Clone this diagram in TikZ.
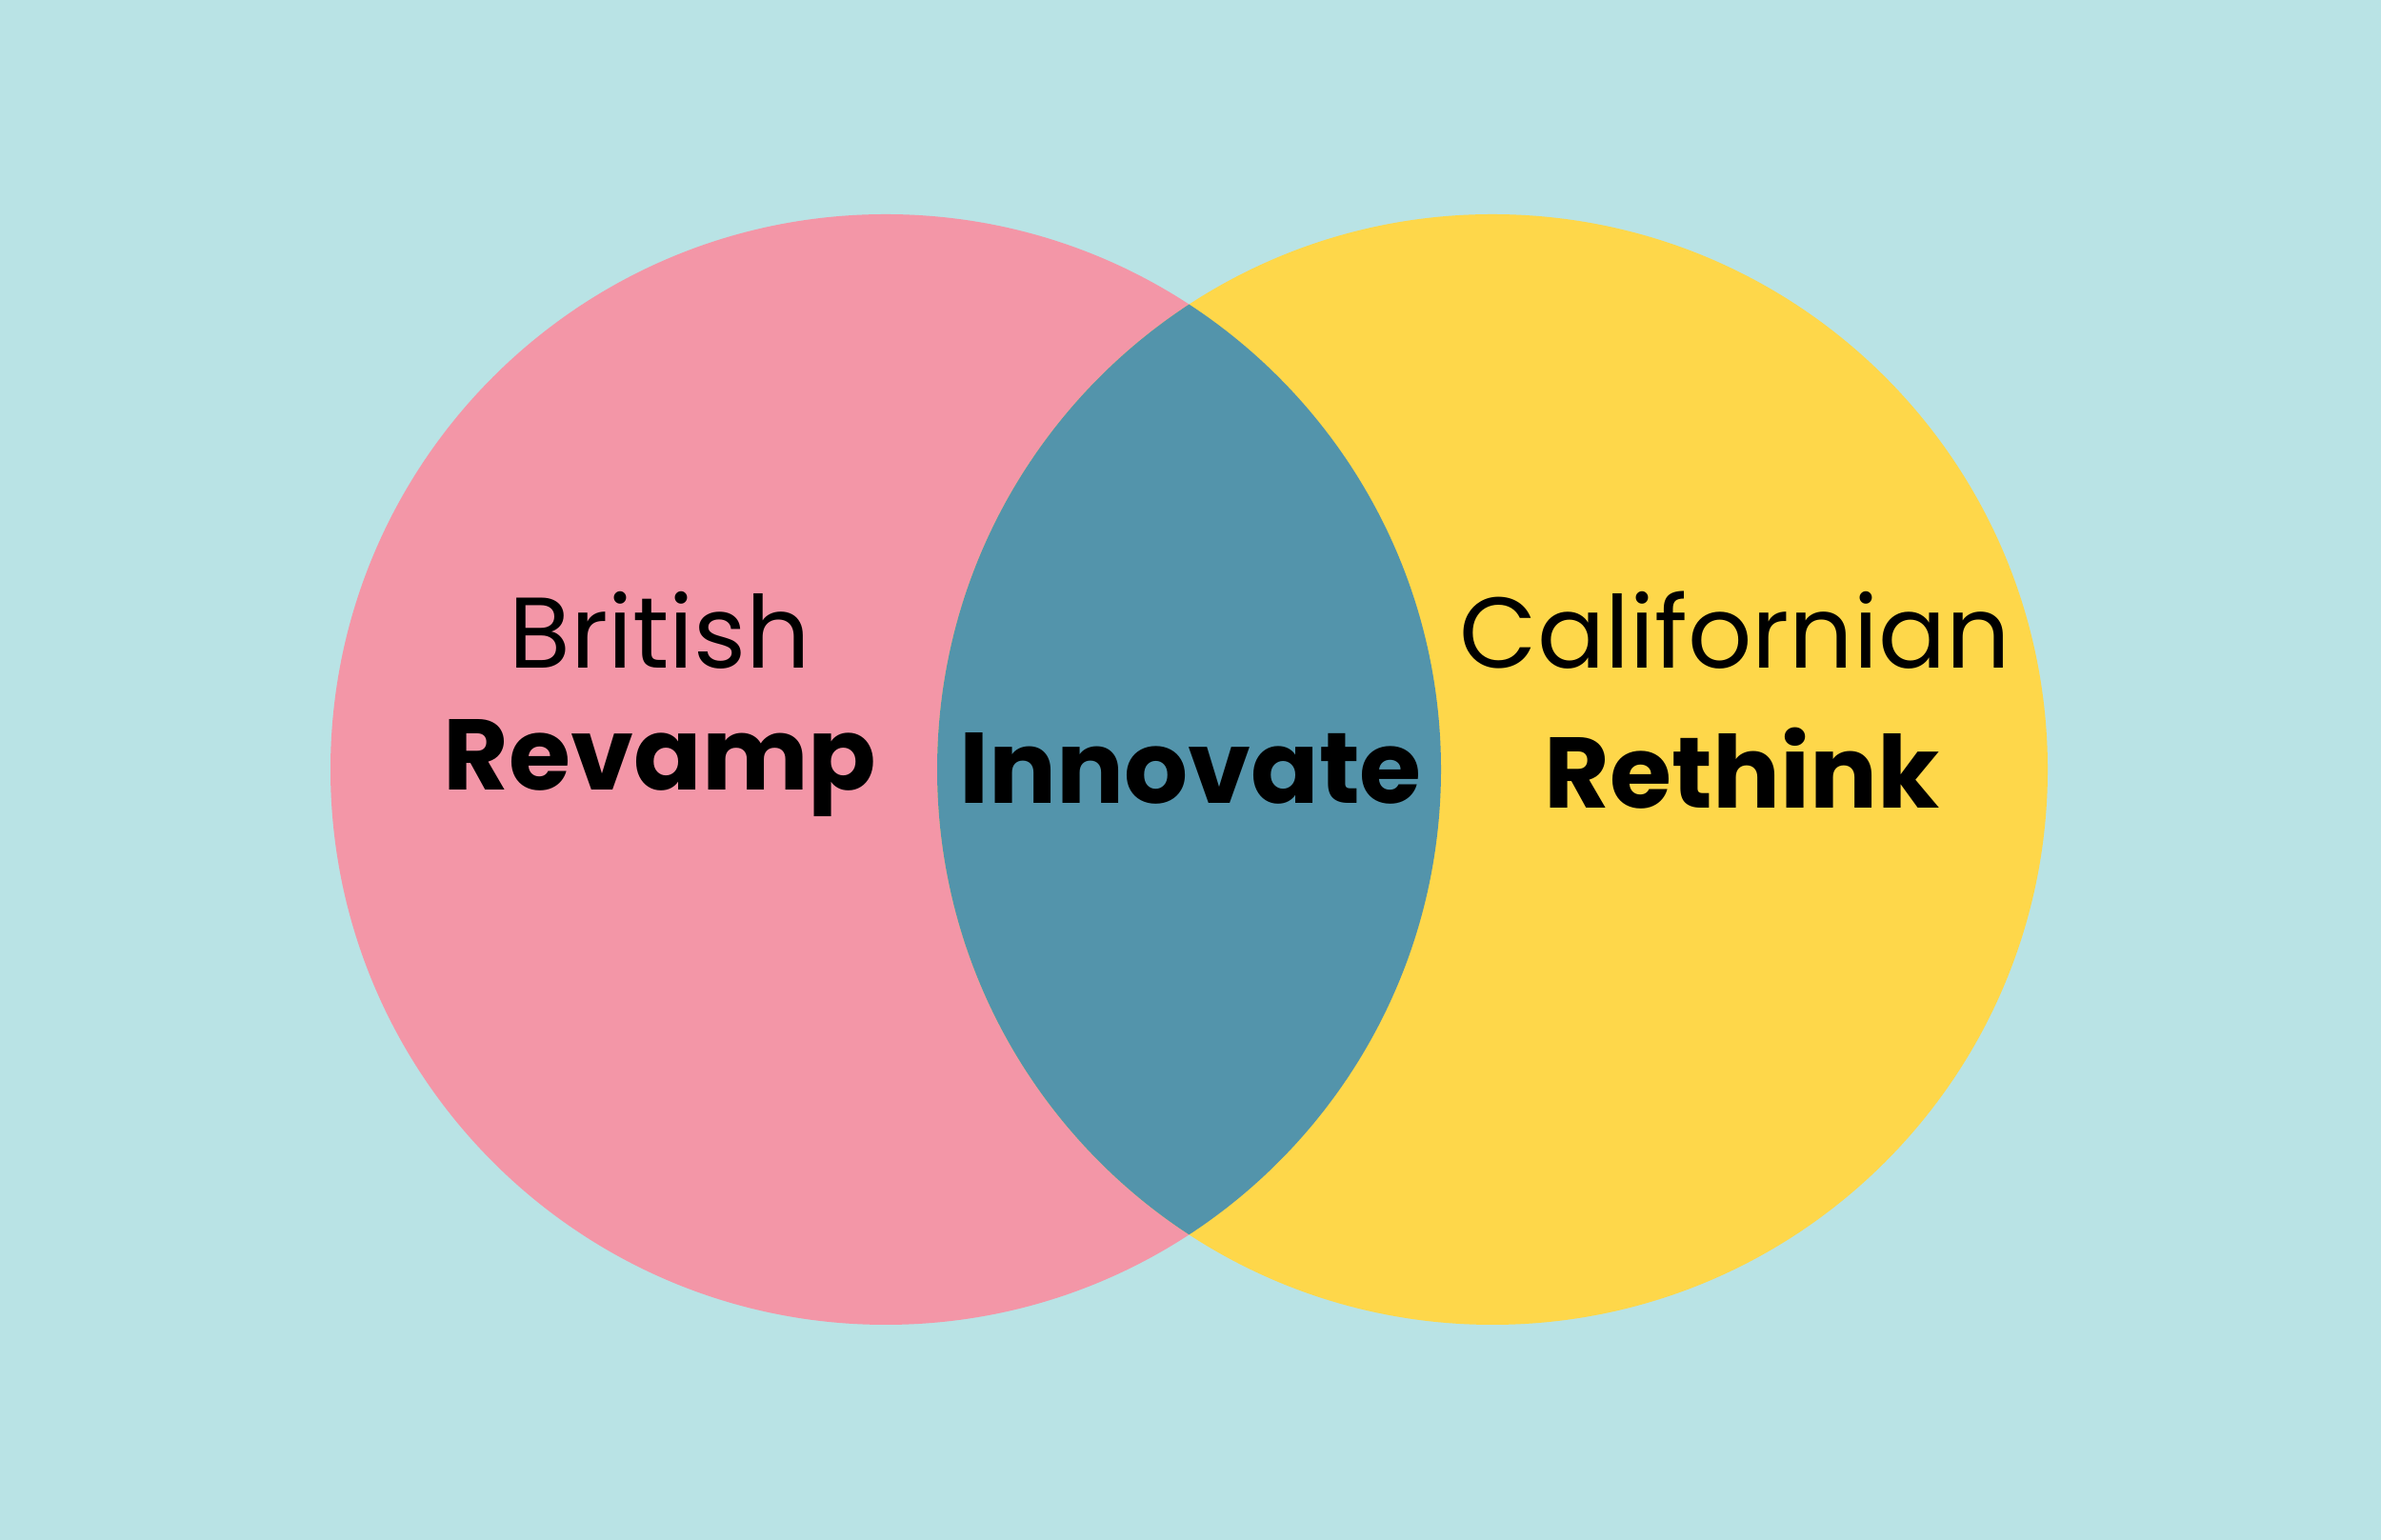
\documentclass[tikz,border=0pt]{standalone}
\usepackage{fontspec}
\setmainfont{Poppins}
\definecolor{bgblue}{HTML}{B9E3E5}
\definecolor{brpink}{HTML}{F396A7}
\definecolor{cayellow}{HTML}{FED74A}
\definecolor{midteal}{HTML}{5394AB}
\begin{document}
\begin{tikzpicture}[
    set/.style={circle, minimum size=11.66cm, inner sep=0pt},
    thin label/.style={font=\fontsize{30}{34}\selectfont},
    bold label/.style={font=\fontsize{30}{34}\selectfont\bfseries}
]

    % Background
    \fill[bgblue] (0,0) rectangle (25,16.17);
    \useasboundingbox (0,0) rectangle (25,16.17);

    % Sets
    \node [set, fill=brpink] (british) at (9.3,8.09) {};
    \node [set, fill=cayellow] (californian) at (15.67,8.09) {};
    \begin{scope}
        \clip (british.center) circle (5.83);
        \fill[midteal] (californian.center) circle (5.83);
    \end{scope}

    % Labels
    \node [thin label] (brtitle) at (6.93,9.55) {British};
    \node [bold label] (brword) at (6.93,8.1) {Revamp};
    \node [bold label] (both) at (12.5,8.1) {Innovate};
    \node [thin label] (catitle) at (18.22,9.55) {Californian};
    \node [bold label] (caword) at (18.29,8.1) {Rethink};

\end{tikzpicture}
\end{document}
